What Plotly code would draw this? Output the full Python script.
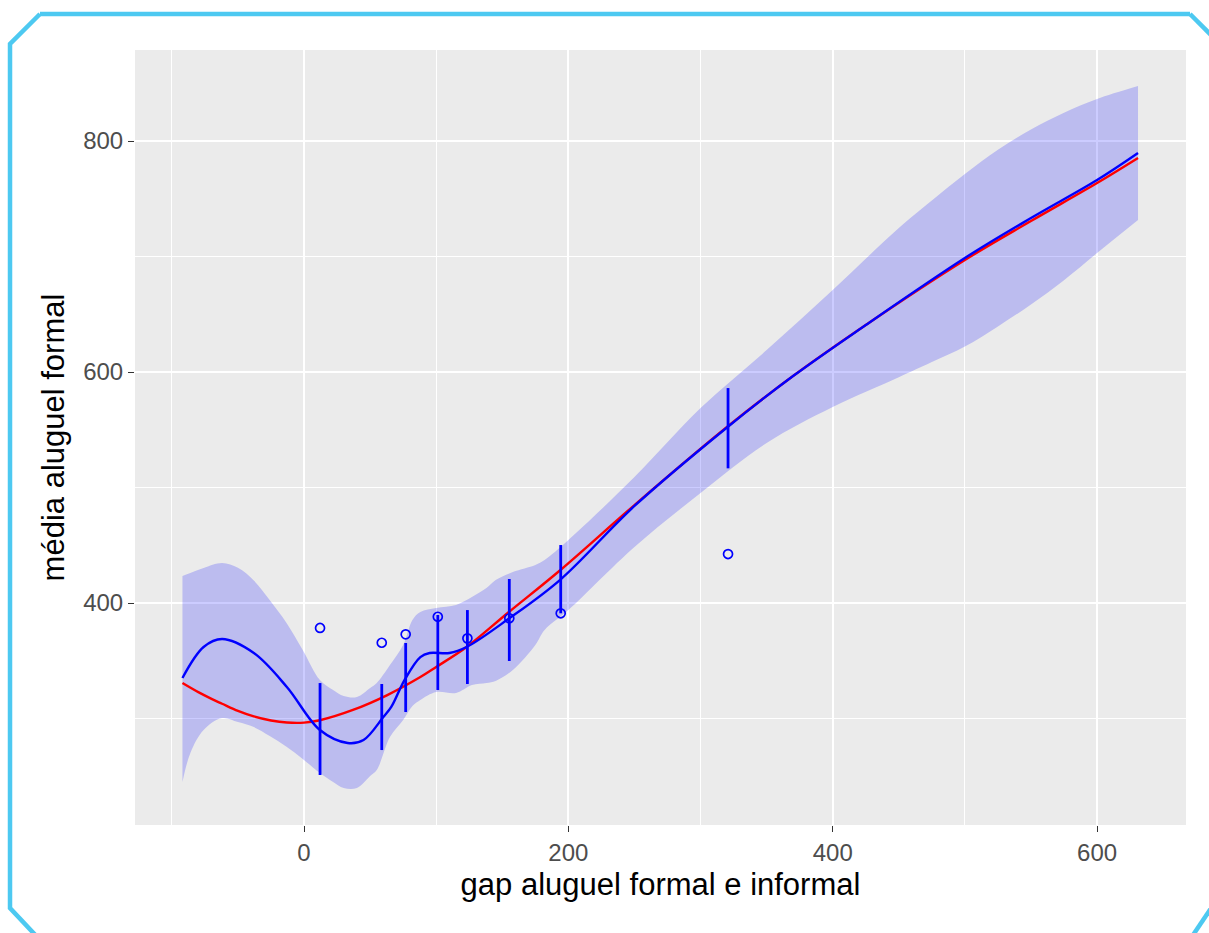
import plotly.graph_objects as go

# ---------------- data ----------------
pts_x = [12.1, 58.8, 76.9, 101.2, 123.6, 155.3, 194.2, 320.8]
pts_y = [378.4, 365.6, 372.9, 388.1, 369.4, 386.8, 391.1, 442.4]

bar_x = [12.1, 58.8, 76.9, 101.2, 123.6, 155.3, 194.2, 320.8]
bar_lo = [251.1, 272.7, 305.6, 324.7, 329.9, 349.8, 391.1, 516.6]
bar_hi = [330.7, 329.9, 365.4, 389.6, 393.9, 420.8, 450.2, 586.1]

band_x = [-92, -86, -76, -62, -50, -38, -26, -13, -1, 12, 22, 30, 40, 50, 55,
          65, 75, 82, 88, 100, 115, 127, 138, 145, 158, 175, 182, 200, 250,
          300, 350, 400, 450, 475, 500, 525, 550, 575, 600, 631]
band_hi = [423.4, 426.0, 430.3, 434.6, 430.5, 419.5, 402.6, 382.3, 359.3, 333.3,
           324.7, 319.5, 318.6, 326.4, 330.7, 346.3, 363.6, 385.3, 392.2, 395.7,
           398.3, 405.2, 413.0, 419.9, 426.8, 432.9, 437.2, 454.5, 509.1, 568.8,
           619.0, 671.0, 724.7, 748.5, 771.5, 792.5, 810.0, 824.5, 836.4, 847.6]
band_lo = [245.0, 270.1, 290.0, 300.4, 297.0, 292.6, 284.9, 275.3, 264.9, 252.8,
           245.0, 239.8, 239.8, 250.2, 255.4, 284.0, 298.7, 310.8, 316.0, 322.9,
           322.1, 329.0, 330.7, 332.5, 342.0, 363.6, 376.6, 393.9, 448.5, 495.2,
           538.5, 569.7, 595.5, 608.7, 622.0, 639.5, 658.5, 679.5, 703.0, 731.6]

blue_x = [-92, -76, -62, -38, -13, 12, 33, 45, 60, 66, 76, 88, 95, 110, 123,
          155, 194, 250, 320, 370, 425, 500, 550, 600, 631]
blue_y = [335.1, 361.9, 368.8, 356.7, 327.3, 290.0, 278.8, 281.4, 301.3, 310.0,
          333.3, 353.2, 356.7, 356.7, 361.9, 386.5, 420.3, 484.0, 552.0, 596.5,
          640.7, 698.7, 733.3, 766.2, 789.6]

red_x = [-92, -80, -70, -62, -50, -38, -25, -13, 0, 12, 37, 63, 88, 100, 123,
         155, 194, 250, 320, 370, 425, 500, 550, 600, 631]
red_y = [330.7, 322.8, 317.0, 312.8, 306.6, 301.8, 298.3, 296.5, 296.4, 298.5,
         307.4, 320.3, 335.9, 344.6, 361.9, 392.2, 428.6, 484.8, 552.4, 596.5,
         640.7, 697.0, 730.7, 763.6, 785.3]

x_ticks = [0, 200, 400, 600]
y_ticks = [400, 600, 800]
x_title = "gap aluguel formal e informal"
y_title = "média aluguel formal"

# ---------------- figure ----------------
W, H = 1209, 933
ML, MR, MT, MB = 135, 23, 50, 108
FONT = "Liberation Sans, Arial, sans-serif"

fig = go.Figure()

fig.add_trace(go.Scatter(x=band_x, y=band_lo, mode="lines",
                         line=dict(width=0, color="rgba(0,0,255,0)", shape="spline", smoothing=1),
                         showlegend=False, hoverinfo="skip"))
fig.add_trace(go.Scatter(x=band_x, y=band_hi, mode="lines",
                         line=dict(width=0, color="rgba(0,0,255,0)", shape="spline", smoothing=1),
                         fill="tonexty", fillcolor="rgba(0,0,255,0.2)",
                         showlegend=False, hoverinfo="skip"))

fig.add_trace(go.Scatter(x=red_x, y=red_y, mode="lines",
                         line=dict(color="#FF0000", width=2.4, shape="spline"),
                         showlegend=False))
fig.add_trace(go.Scatter(x=blue_x, y=blue_y, mode="lines",
                         line=dict(color="#0000FF", width=2.4, shape="spline"),
                         showlegend=False))

seg_x, seg_y = [], []
for bx, lo, hi in zip(bar_x, bar_lo, bar_hi):
    seg_x += [bx, bx, None]
    seg_y += [lo, hi, None]
fig.add_trace(go.Scatter(x=seg_x, y=seg_y, mode="lines",
                         line=dict(color="#0000FF", width=2.8),
                         showlegend=False))

fig.add_trace(go.Scatter(x=pts_x, y=pts_y, mode="markers",
                         marker=dict(symbol="circle-open", size=9,
                                     color="#0000FF", line=dict(width=1.7)),
                         showlegend=False))

axis_common = dict(
    showgrid=True, gridcolor="white", gridwidth=2,
    zeroline=False, showline=False,
    ticks="outside", ticklen=6, tickwidth=1.2, tickcolor="#333333",
    tickfont=dict(family=FONT, size=24, color="#4D4D4D"),
)

fig.update_layout(
    width=W, height=H,
    margin=dict(l=ML, r=MR, t=MT, b=MB, pad=0),
    paper_bgcolor="white",
    plot_bgcolor="#EBEBEB",
    showlegend=False,
    xaxis=dict(range=[-127.9, 667.3], tickvals=x_ticks, ticktext=[str(v) for v in x_ticks],
               minor=dict(dtick=100, tick0=0, showgrid=True, gridcolor="white", gridwidth=1, ticks=""),
               title=dict(text=x_title, standoff=8,
                          font=dict(family=FONT, size=31, color="black")),
               **axis_common),
    yaxis=dict(range=[207.8, 878.8], tickvals=y_ticks, ticktext=[str(v) for v in y_ticks],
               minor=dict(dtick=100, tick0=0, showgrid=True, gridcolor="white", gridwidth=1, ticks=""),
               title=dict(text=y_title, standoff=9,
                          font=dict(family=FONT, size=31, color="black")),
               **axis_common),
)

# decorative cyan frame around the screenshot (pixel -> paper helper)
def px(x, y):
    return (x - ML) / (W - ML - MR), (H - MB - y) / (H - MT - MB)

def path_of(points):
    s = ""
    for i, (x, y) in enumerate(points):
        u, v = px(x, y)
        s += ("M" if i == 0 else "L") + f"{u:.5f},{v:.5f} "
    return s

frame_paths = [
    [(40, 14), (10, 44), (10, 908), (40, 940)],
    [(40, 14), (1190, 14)],
    [(1190, 14), (1225, 49)],
    [(1230, 880), (1187, 944)],
]
for pts in frame_paths:
    fig.add_shape(type="path", path=path_of(pts), xref="paper", yref="paper",
                  line=dict(color="#4DC9F1", width=4.5), layer="above")

fig.write_html("out.html", config={"displayModeBar": False},
               post_script="document.body.style.margin='0px';document.body.style.overflow='hidden';")
